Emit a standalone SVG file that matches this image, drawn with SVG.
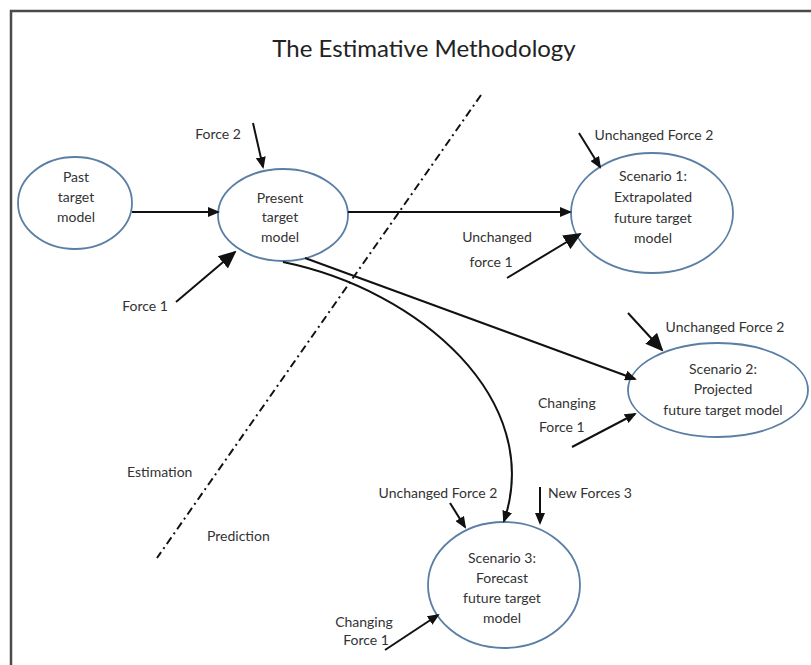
<svg xmlns="http://www.w3.org/2000/svg" width="811" height="665" viewBox="0 0 811 665">
  <style>
    .node ellipse { fill: #ffffff; stroke: #5a7ea4; stroke-width: 1.8; }
    text { font-family: Lato, "Open Sans", "Liberation Sans", sans-serif; fill: #333333; }
    .lbl { font-size: 14px; text-anchor: middle; }
    .left { text-anchor: start; }
    .title { font-size: 24px; text-anchor: middle; fill: #222222; }
    .edge { fill: none; stroke: #111111; stroke-width: 2; }
    .divider { fill: none; stroke: #111111; stroke-width: 2; stroke-dasharray: 8 4 2 4; }
  </style>
  <defs>
    <marker id="tipS" markerUnits="userSpaceOnUse" markerWidth="12" markerHeight="10" refX="10" refY="5" orient="auto">
      <path d="M0,0 L12,5 L0,10 Z" fill="#111111"/>
    </marker>
    <marker id="tipL" markerUnits="userSpaceOnUse" markerWidth="18" markerHeight="16" refX="16" refY="8" orient="auto">
      <path d="M0,0 L18,8 L0,16 Z" fill="#111111"/>
    </marker>
  </defs>

  <rect x="0" y="0" width="811" height="665" fill="#ffffff"/>
  <!-- page frame -->
  <path d="M11,665 L11,11 L811,11" fill="none" stroke="#4a4a4a" stroke-width="2.5"/>

  <text class="title" x="424" y="57">The Estimative Methodology</text>

  <!-- estimation / prediction boundary -->
  <line class="divider" x1="481" y1="95" x2="157" y2="558"/>
  <text class="lbl left" x="127" y="477">Estimation</text>
  <text class="lbl left" x="207" y="541">Prediction</text>

  <g id="past" class="node">
    <ellipse cx="75" cy="203" rx="57" ry="46"/>
    <text class="lbl" x="76" y="182">Past</text>
    <text class="lbl" x="76" y="202">target</text>
    <text class="lbl" x="76" y="222">model</text>
  </g>
  <g id="present" class="node">
    <ellipse cx="283" cy="215" rx="65" ry="46"/>
    <text class="lbl" x="280" y="203">Present</text>
    <text class="lbl" x="280" y="222">target</text>
    <text class="lbl" x="280" y="242">model</text>
  </g>
  <g id="scenario1" class="node">
    <ellipse cx="652" cy="213" rx="81" ry="60"/>
    <text class="lbl" x="653" y="181">Scenario 1:</text>
    <text class="lbl" x="653" y="202">Extrapolated</text>
    <text class="lbl" x="653" y="223">future target</text>
    <text class="lbl" x="653" y="243">model</text>
  </g>
  <g id="scenario2" class="node">
    <ellipse cx="718" cy="390" rx="90" ry="47"/>
    <text class="lbl" x="723" y="374">Scenario 2:</text>
    <text class="lbl" x="723" y="394">Projected</text>
    <text class="lbl" x="723" y="415">future target model</text>
  </g>
  <g id="scenario3" class="node">
    <ellipse cx="504" cy="585" rx="76" ry="63"/>
    <text class="lbl" x="502" y="563">Scenario 3:</text>
    <text class="lbl" x="502" y="583">Forecast</text>
    <text class="lbl" x="502" y="603">future target</text>
    <text class="lbl" x="502" y="623">model</text>
  </g>

  <!-- force labels -->
  <g id="force-labels">
    <text class="lbl" x="218" y="139">Force 2</text>
    <text class="lbl" x="145" y="311">Force 1</text>
    <text class="lbl" x="654" y="140">Unchanged Force 2</text>
    <text class="lbl" x="497" y="242">Unchanged</text>
    <text class="lbl" x="491" y="267">force 1</text>
    <text class="lbl" x="725" y="332">Unchanged Force 2</text>
    <text class="lbl left" x="538" y="408">Changing</text>
    <text class="lbl left" x="539" y="432">Force 1</text>
    <text class="lbl" x="438" y="498">Unchanged Force 2</text>
    <text class="lbl" x="590" y="498">New Forces 3</text>
    <text class="lbl" x="364" y="627">Changing</text>
    <text class="lbl" x="366" y="645">Force 1</text>
  </g>

  <g id="connectors">
    <line class="edge" x1="132" y1="212" x2="218" y2="212" marker-end="url(#tipS)"/>
    <line class="edge" x1="348" y1="212" x2="570" y2="212" marker-end="url(#tipS)"/>
    <path class="edge" d="M305,258 Q420,300 635,379" marker-end="url(#tipS)"/>
    <path class="edge" d="M283,262 C420,290 545,400 504,521" marker-end="url(#tipS)"/>

    <line class="edge" x1="253" y1="123" x2="263" y2="167" marker-end="url(#tipS)"/>
    <line class="edge" x1="176" y1="302" x2="235" y2="252" marker-end="url(#tipL)"/>
    <line class="edge" x1="579" y1="133" x2="600" y2="167" marker-end="url(#tipS)"/>
    <line class="edge" x1="507" y1="278" x2="580" y2="234" marker-end="url(#tipL)"/>
    <line class="edge" x1="628" y1="313" x2="662" y2="350" marker-end="url(#tipL)"/>
    <line class="edge" x1="572" y1="447" x2="635" y2="414" marker-end="url(#tipS)"/>
    <line class="edge" x1="450" y1="503" x2="465" y2="527" marker-end="url(#tipS)"/>
    <line class="edge" x1="540" y1="487" x2="540" y2="523" marker-end="url(#tipS)"/>
    <line class="edge" x1="385" y1="650" x2="438" y2="615" marker-end="url(#tipS)"/>
  </g>
</svg>
